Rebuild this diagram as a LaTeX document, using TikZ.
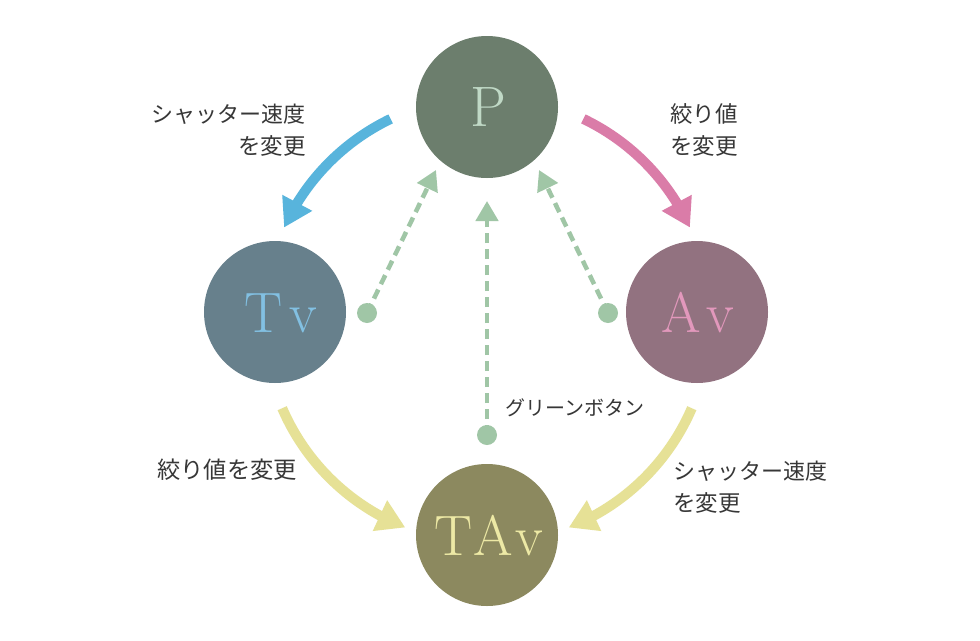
\documentclass[tikz,border=0pt]{standalone}
\usepackage{fontspec}
\newfontfamily\jp{Noto Sans CJK JP}
\usetikzlibrary{arrows.meta,bending}
\definecolor{pcol}{RGB}{108,126,109}
\definecolor{ptxt}{RGB}{192,217,198}
\definecolor{tvcol}{RGB}{103,128,140}
\definecolor{tvtxt}{RGB}{130,192,226}
\definecolor{avcol}{RGB}{146,114,128}
\definecolor{avtxt}{RGB}{226,152,188}
\definecolor{tavcol}{RGB}{140,137,95}
\definecolor{tavtxt}{RGB}{237,233,165}
\definecolor{arrblue}{RGB}{88,180,220}
\definecolor{arrpink}{RGB}{218,124,168}
\definecolor{arryel}{RGB}{230,225,150}
\definecolor{grn}{RGB}{160,198,166}
\definecolor{txtc}{RGB}{55,55,55}
\tikzset{
  x=1pt,y=1pt,
  bigcircle/.style={circle,minimum size=142pt,inner sep=0pt},
  bigtext/.style={inner sep=0pt,font=\fontsize{57}{57}\selectfont},
  bigarrow/.style={line width=10pt,-{Triangle[length=28pt,width=32pt]}},
  gdash/.style={grn,line width=4.5pt,dash pattern=on 10pt off 6pt,-{Triangle[length=20pt,width=22pt]}},
  gdot/.style={circle,fill=grn,minimum size=20pt,inner sep=0pt},
  lbl/.style={font=\jp\fontsize{22.5}{22.5}\selectfont,text=txtc,inner sep=0pt},
  lbls/.style={font=\jp\fontsize{22}{22}\selectfont,text=txtc,inner sep=0pt},
}
\begin{document}
\begin{tikzpicture}
\useasboundingbox (0,0) rectangle (980,-640);
\fill[white] (0,0) rectangle (980,-640);
% circles
\node[bigcircle,fill=pcol] (P) at (487,-107) {};
\node[bigcircle,fill=tvcol] (Tv) at (275,-312) {};
\node[bigcircle,fill=avcol] (Av) at (697,-312) {};
\node[bigcircle,fill=tavcol] (TAv) at (487,-535) {};
\node[bigtext,text=ptxt] (Pt) at (488,-107) {P};
\node[bigtext,text=tvtxt] (Tvt) at (281,-313) {T\kern7pt v};
\node[bigtext,text=avtxt] (Avt) at (698,-313) {A\kern6pt v};
\node[bigtext,text=tavtxt] (TAvt) at (489,-536) {T\kern1pt A\kern3pt v};
% centre of arcs
\coordinate (c) at (487,-320);
\draw[bigarrow,arrblue] ([shift={(115.6:223)}]c) arc[start angle=115.6,end angle=155.5,radius=223];
\draw[bigarrow,arrpink] ([shift={(64.4:223)}]c) arc[start angle=64.4,end angle=24.5,radius=223];
\draw[bigarrow,arryel] ([shift={(203.3:223)}]c) arc[start angle=203.3,end angle=248.5,radius=223];
\draw[bigarrow,arryel] ([shift={(336.7:223)}]c) arc[start angle=336.7,end angle=291.5,radius=223];
% green button
\node[gdot] (d1) at (367,-313) {};
\node[gdot] (d2) at (487,-435) {};
\node[gdot] (d3) at (608,-313) {};
\coordinate (t1) at (436,-170);
\coordinate (t2) at (487,-201);
\coordinate (t3) at (539,-170);
\draw[gdash] (d1.center) -- (t1);
\draw[gdash] (d2.center) -- (t2);
\draw[gdash] (d3.center) -- (t3);
% labels
\node[lbls,anchor=east] (l1a) at (306,-114) {シャッター速度};
\node[lbl,anchor=east] (l1b) at (306,-146) {を変更};
\node[lbl,anchor=west] (l2a) at (670,-114) {絞り値};
\node[lbl,anchor=west] (l2b) at (670,-146) {を変更};
\node[lbl,anchor=west,font=\jp\fontsize{23.3}{23.3}\selectfont] (l3) at (157,-470) {絞り値を変更};
\node[lbls,anchor=west] (l4a) at (673,-471) {シャッター速度};
\node[lbl,anchor=west] (l4b) at (673,-503) {を変更};
\node[lbl,anchor=west,font=\jp\fontsize{20}{20}\selectfont] (l5) at (505,-408) {グリーンボタン};
\end{tikzpicture}
\end{document}
